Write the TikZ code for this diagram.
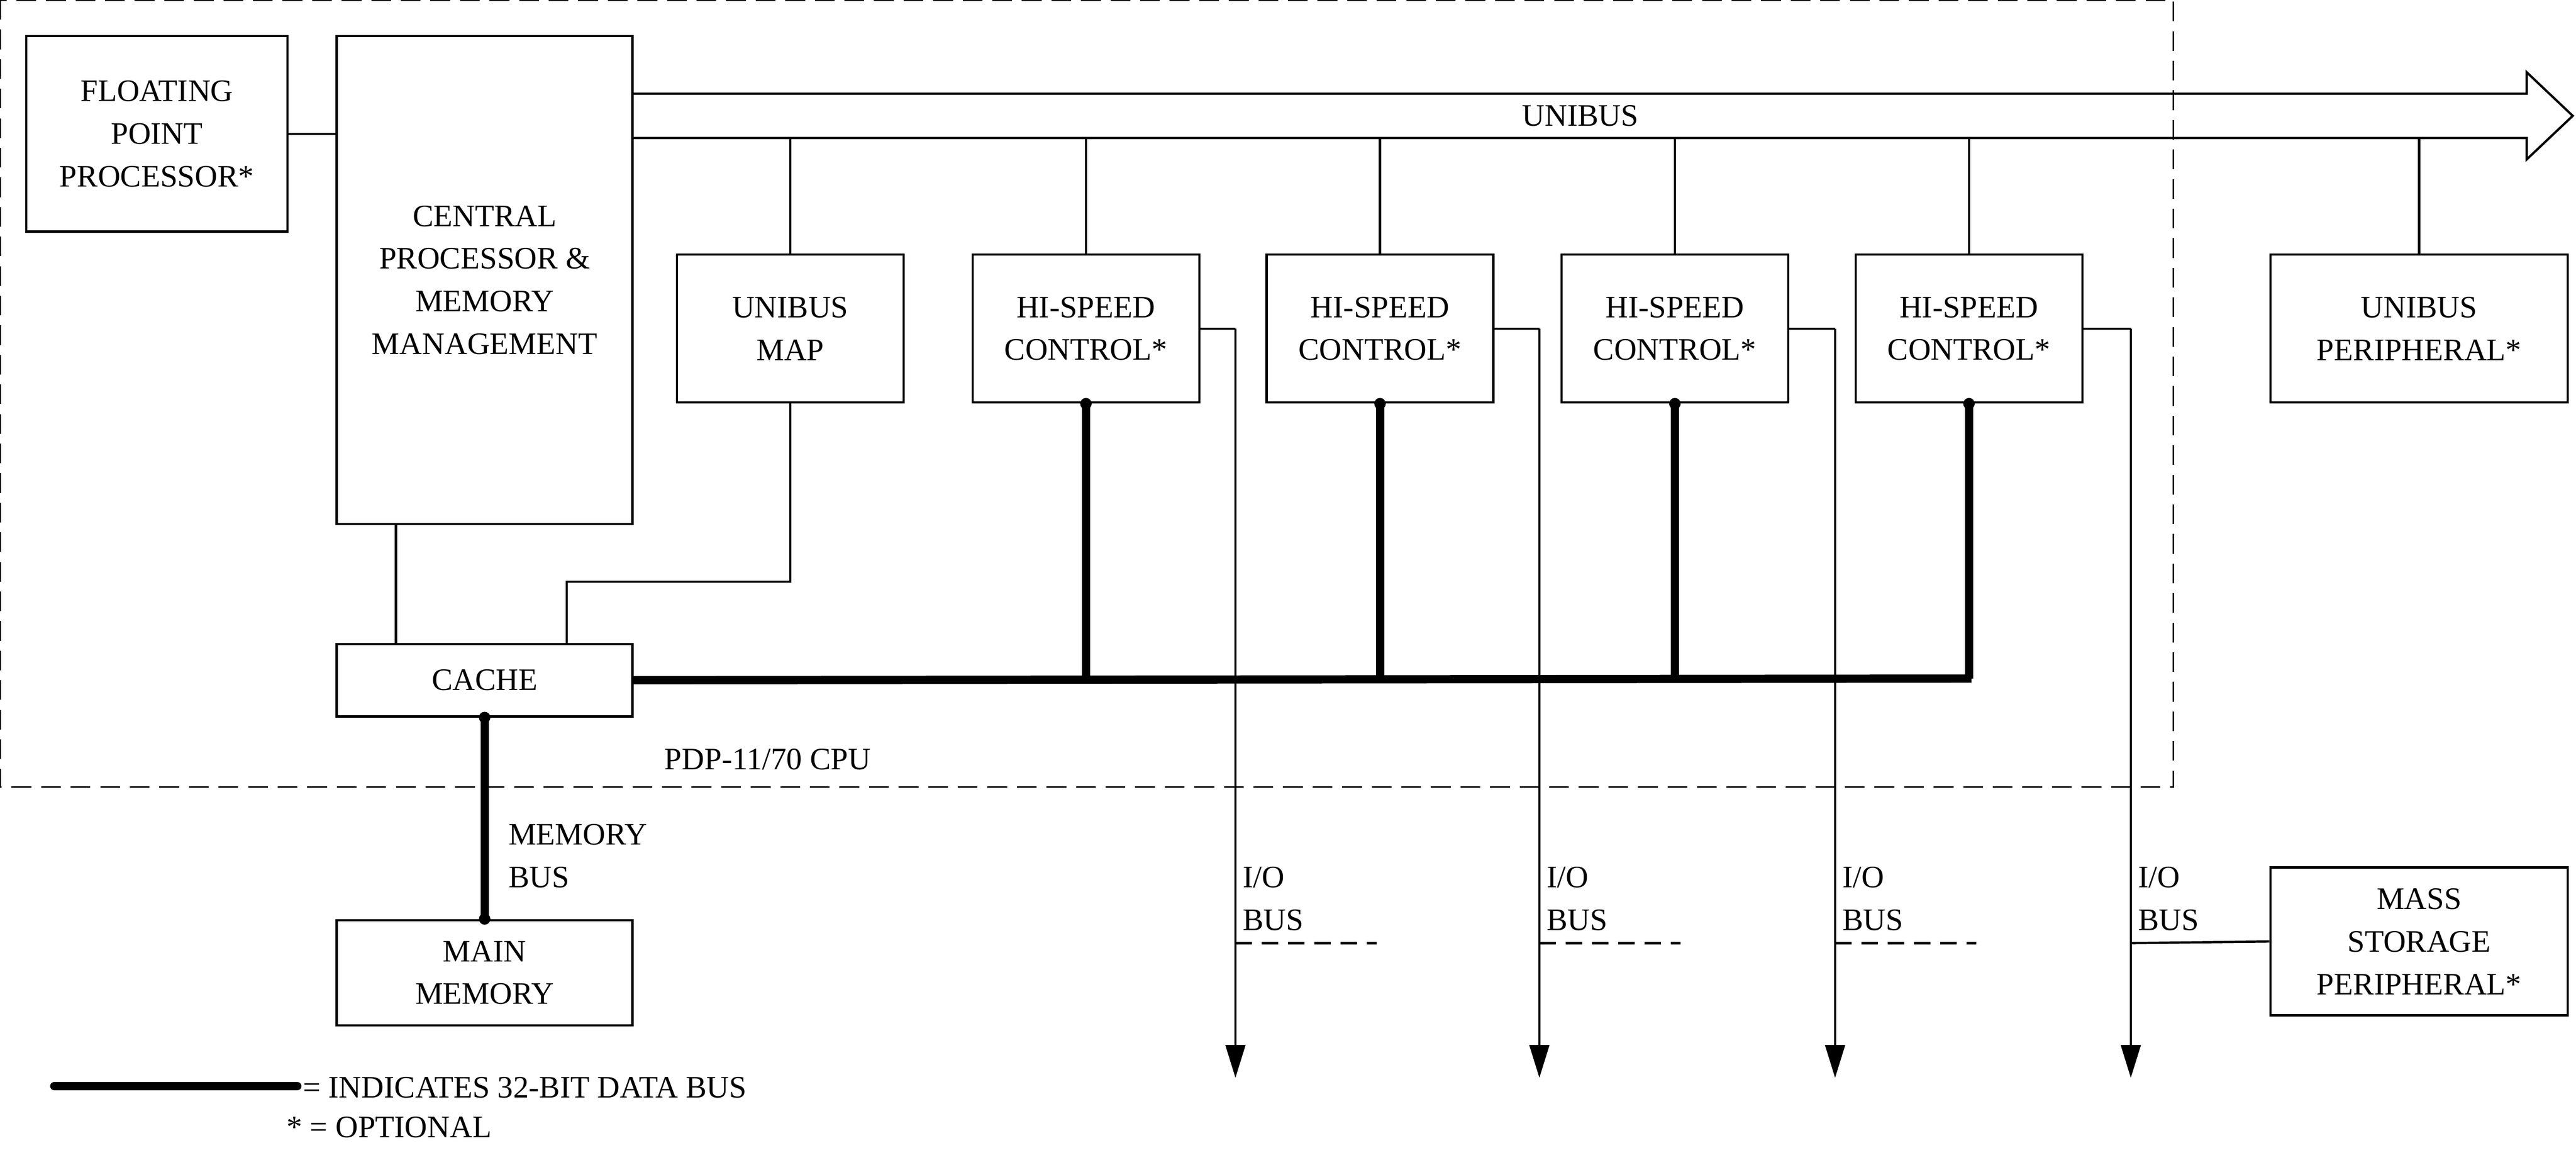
\documentclass[tikz,border=0pt]{standalone}
\usepackage{fontspec}
\setmainfont{Liberation Serif}
\usetikzlibrary{arrows.meta}

\begin{document}
\begin{tikzpicture}[x=1pt,y=1pt,yscale=-1,xscale=1,
  font=\fontsize{19}{26}\selectfont,
  box/.style={draw,line width=1.4,align=center,inner sep=0pt},
  thin/.style={line width=1.4},
  bus/.style={line width=5},
  io/.style={line width=1.4,-{Triangle[length=20,width=12]}}]
\useasboundingbox (0,0) rectangle (1568,709);

% CPU outline
\draw [dash pattern=on 12 off 6,line width=1] (0,0) rectangle (1323,479);

% Boxes
\node [box,minimum width=159,minimum height=119] (fpp) at (95.5,81.5) {FLOATING\\POINT\\PROCESSOR*};
\node [box,minimum width=180,minimum height=297] (cpu) at (295,170.5) {CENTRAL\\PROCESSOR \&\\MEMORY\\MANAGEMENT};
\node [box,minimum width=138,minimum height=90] (map) at (481,200) {UNIBUS\\MAP};
\node [box,minimum width=138,minimum height=90] (hs1) at (661,200) {HI-SPEED\\CONTROL*};
\node [box,minimum width=138,minimum height=90] (hs2) at (840,200) {HI-SPEED\\CONTROL*};
\node [box,minimum width=138,minimum height=90] (hs3) at (1019.5,200) {HI-SPEED\\CONTROL*};
\node [box,minimum width=138,minimum height=90] (hs4) at (1198.5,200) {HI-SPEED\\CONTROL*};
\node [box,minimum width=181,minimum height=90] (uper) at (1472.5,200) {UNIBUS\\PERIPHERAL*};
\node [box,minimum width=180,minimum height=44] (cache) at (295,414) {CACHE};
\node [box,minimum width=180,minimum height=64] (mem) at (295,592) {MAIN\\MEMORY};
\node [box,minimum width=181,minimum height=90] (mass) at (1472.5,573) {MASS\\STORAGE\\PERIPHERAL*};

% Unibus arrow
\draw [thin] (385,57) -- (1538,57) -- (1538,44) -- (1566,70.5) -- (1538,97) -- (1538,84) -- (385,84);
\node (ub) at (962,70.5) {UNIBUS};

\draw [thin] (fpp.east) -- (fpp.east -| cpu.west);
\foreach \b in {map,hs1,hs2,hs3,hs4,uper}
  \draw [thin] (\b.north) -- (\b.north |- 0,84);

% CPU, map to cache
\draw [thin] (241,319) -- (241,392);
\draw [thin] (map.south) -- (481,354) -- (345,354) -- (345,392);

% 32-bit buses
\draw [bus] (cache.east) -- (1200,413);
\foreach \b in {hs1,hs2,hs3,hs4} {
  \draw [bus] (\b.south) -- (\b.south |- 0,413);
  \fill (\b.south) circle (3.5);
}
\draw [bus] (cache.south) -- (mem.north);
\fill (cache.south) circle (3.5);
\fill (mem.north) circle (3.5);
\node [anchor=west,align=left] (mbus) at (306,521) {MEMORY\\BUS};
\node [anchor=west] (cpul) at (401,462) {PDP-11/70 CPU};

% I/O buses
\foreach \b/\x in {hs1/752,hs2/937,hs3/1117,hs4/1297} {
  \draw [thin] (\b.east) -- (\x,200);
  \draw [io] (\x,200) -- (\x,656);
  \node [anchor=west,align=left] at (\x+1,547) {I/O\\BUS};
}
\foreach \x in {752,937,1117}
  \draw [thin,dash pattern=on 10 off 6] (\x,574) -- (\x+86,574);
\draw [thin] (1297,574) -- (mass.west);

% Legend
\draw [bus,line cap=round] (33,661) -- (181,661);
\node [anchor=west] (leg1) at (181,662) {= INDICATES 32-BIT DATA BUS};
\node [anchor=west] (leg2) at (171,686) {* = OPTIONAL};
\end{tikzpicture}
\end{document}
